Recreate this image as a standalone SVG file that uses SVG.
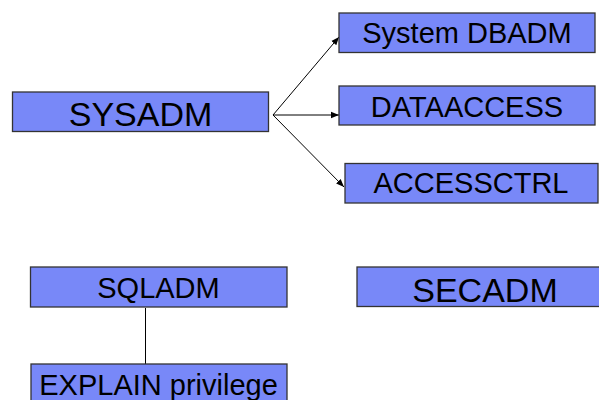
<svg xmlns="http://www.w3.org/2000/svg" width="599" height="400" viewBox="0 0 599 400">
<style>
.box{fill:#7888f8;stroke:#333;stroke-width:1.3}
.t{font-family:"Liberation Sans",Arial,sans-serif;fill:#000;text-anchor:middle}
.s29{font-size:29px}
.s34{font-size:34px}
.c{stroke:#000;stroke-width:1;fill:none}
</style>
<defs>
<marker id="ah" viewBox="0 0 10 10" refX="10" refY="5" markerWidth="8" markerHeight="8" markerUnits="userSpaceOnUse" orient="auto">
<path d="M0,1 L10,5 L0,9 z" fill="#000"/>
</marker>
</defs>
<rect width="599" height="400" fill="#fff"/>
<g id="connectors">
<line class="c" x1="273" y1="115" x2="339" y2="37" marker-end="url(#ah)"/>
<line class="c" x1="273" y1="115" x2="339" y2="115" marker-end="url(#ah)"/>
<line class="c" x1="273" y1="115" x2="344" y2="187" marker-end="url(#ah)"/>
<line class="c" x1="145.5" y1="308" x2="145.5" y2="364" stroke-width="1.5"/>
</g>
<g id="sysadm">
<rect class="box" x="12.5" y="92" width="256" height="39.5"/>
<text class="t s34" x="140.5" y="126">SYSADM</text>
</g>
<g id="sysdbadm">
<rect class="box" x="339" y="13" width="256" height="39.5"/>
<text class="t s29" x="467" y="43">System DBADM</text>
</g>
<g id="dataaccess">
<rect class="box" x="339" y="86" width="256" height="39"/>
<text class="t s29" x="467" y="116.5">DATAACCESS</text>
</g>
<g id="accessctrl">
<rect class="box" x="345" y="163.5" width="253" height="39.5"/>
<text class="t s29" x="471" y="193.3">ACCESSCTRL</text>
</g>
<g id="sqladm">
<rect class="box" x="30.5" y="267" width="256.5" height="40"/>
<text class="t s29" x="158.5" y="297.7">SQLADM</text>
</g>
<g id="secadm">
<rect class="box" x="357" y="267" width="250" height="39.5"/>
<text class="t s34" x="485" y="301.7">SECADM</text>
</g>
<g id="explain">
<rect class="box" x="31" y="364" width="256" height="45"/>
<text class="t s29" x="158.5" y="394.5">EXPLAIN privilege</text>
</g>
</svg>
